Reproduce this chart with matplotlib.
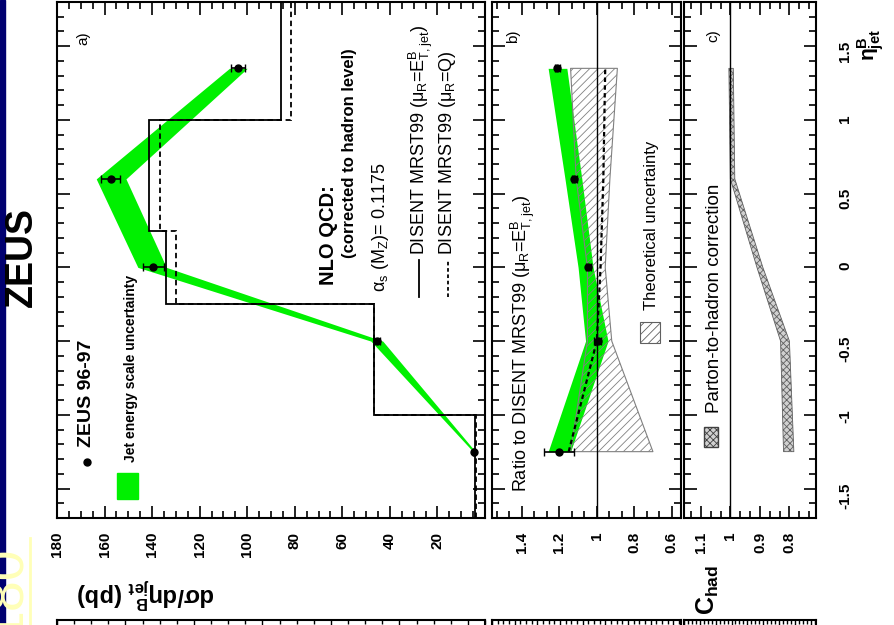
import numpy as np
import matplotlib
matplotlib.use('Agg')
import matplotlib.pyplot as plt
from matplotlib.ticker import AutoMinorLocator, MultipleLocator
from matplotlib.patches import Rectangle
from matplotlib.lines import Line2D

plt.rcParams['font.family'] = ['Liberation Sans', 'DejaVu Sans']
plt.rcParams['mathtext.default'] = 'regular'
plt.rcParams['hatch.linewidth'] = 0.6

# ZEUS 96-97 data points
eta = [-1.25, -0.5, 0.0, 0.6, 1.35]
xsec = [4.5, 45.5, 139.5, 157.5, 104.0]
xsec_err = [0.5, 1.2, 4.5, 3.8, 3.0]
jes_lo = [4.0, 43.0, 134.0, 151.0, 100.0]
jes_hi = [5.0, 48.0, 146.0, 163.5, 107.5]

# NLO histograms
bin_edges = [-1.7, -1.0, -0.25, 0.25, 1.0, 1.8]
nlo_et = [4.1, 46.8, 134.0, 141.5, 85.7]
nlo_q = [3.8, 46.5, 130.0, 136.5, 81.5]

# ratio panel
ratio = [1.2, 0.995, 1.045, 1.12, 1.21]
ratio_err = [0.08, 0.02, 0.015, 0.015, 0.015]
ratio_jes_lo = [1.14, 0.94, 1.02, 1.08, 1.16]
ratio_jes_hi = [1.26, 1.06, 1.10, 1.17, 1.26]
ratio_q = [1.15, 1.0, 0.98, 0.965, 0.955]
theo_lo = [0.70, 0.92, 0.955, 0.93, 0.89]
theo_hi = [1.14, 1.05, 1.05, 1.11, 1.14]

# hadronisation correction
chad_lo = [0.785, 0.80, 0.89, 0.985, 0.99]
chad_hi = [0.82, 0.83, 0.91, 1.0, 1.005]

eta_ticks = [-1.5, -1, -0.5, 0, 0.5, 1, 1.5]
eta_labels = ['-1.5', '-1', '-0.5', '0', '0.5', '1', '1.5']
xs_ticks = [20, 40, 60, 80, 100, 120, 140, 160, 180]
r_ticks = [1.4, 1.2, 1.0, 0.8, 0.6]
r_labels = ['1.4', '1.2', '1', '0.8', '0.6']
c_ticks = [1.1, 1.0, 0.9, 0.8]
c_labels = ['1.1', '1', '0.9', '0.8']

W, H = 895, 625
green = '#00f000'
fig = plt.figure(figsize=(W / 100, H / 100), dpi=100)


def box(x0, y0, x1, y1):
    return [x0 / W, 1 - y1 / H, (x1 - x0) / W, (y1 - y0) / H]


def ftext(x, y, s, **kw):
    kw.setdefault('rotation', 90)
    kw.setdefault('ha', 'center')
    kw.setdefault('va', 'bottom')
    fig.text(x / W, 1 - y / H, s, **kw)


def style(ax):
    for s in ax.spines.values():
        s.set_linewidth(1.5)
    ax.tick_params(which='both', direction='in', top=True, bottom=True,
                   left=True, right=True, width=1.2, labelleft=False)
    ax.tick_params(which='major', length=9)
    ax.tick_params(which='minor', length=5)
    ax.tick_params(axis='x', labelrotation=90, pad=10)


# slide border
fig.add_artist(Rectangle((0, 0), 5 / W, 1, transform=fig.transFigure, color='#000070'))

ax_a = fig.add_axes(box(57, 2, 485, 518))
ax_b = fig.add_axes(box(492, 2, 681, 518), sharey=ax_a)
ax_c = fig.add_axes(box(684, 2, 816, 518), sharey=ax_a)

# a) cross section
ax_a.fill_betweenx(eta, jes_lo, jes_hi, color=green, lw=0, zorder=1)
ax_a.stairs(nlo_et, bin_edges, orientation='horizontal', baseline=None, color='k', lw=1.3)
ax_a.stairs(nlo_q, bin_edges, orientation='horizontal', baseline=None, color='k', lw=1.3,
            ls=(0, (3, 2)))
ax_a.errorbar(xsec, eta, xerr=xsec_err, fmt='o', color='k', ms=5, capsize=3, elinewidth=1.2, zorder=5)
ax_a.set_xlim(180, 0)
ax_a.set_xticks(xs_ticks, [str(v) for v in xs_ticks], fontweight='bold', fontsize=11)
ax_a.xaxis.set_minor_locator(AutoMinorLocator(4))

# b) ratio
ax_b.fill_betweenx(eta, ratio_jes_lo, ratio_jes_hi, color=green, lw=0, zorder=1)
ax_b.fill_betweenx(eta, theo_lo, theo_hi, facecolor='none', edgecolor='#808080', hatch='////', lw=0.8, zorder=2)
ax_b.axvline(1, color='k', lw=1, zorder=3)
ax_b.plot(ratio_q, eta, color='k', lw=1.6, ls=(0, (2, 1.5)), zorder=4)
ax_b.errorbar(ratio, eta, xerr=ratio_err, fmt='o', color='k', ms=5, capsize=3, elinewidth=1.2, zorder=5)
ax_b.set_xlim(1.56, 0.55)
ax_b.set_xticks(r_ticks, r_labels, fontweight='bold', fontsize=11)
ax_b.xaxis.set_minor_locator(AutoMinorLocator(3))

# c) hadronisation correction
ax_c.axvline(1, color='k', lw=1)
ax_c.fill_betweenx(eta, chad_lo, chad_hi, facecolor='#d0d0d0', edgecolor='#606060', hatch='xxxxx', lw=0.6)
ax_c.set_xlim(1.157, 0.71)
ax_c.set_xticks(c_ticks, c_labels, fontweight='bold', fontsize=11)
ax_c.xaxis.set_minor_locator(AutoMinorLocator(3))

for ax in (ax_a, ax_b, ax_c):
    style(ax)
ax_c.set_ylim(-1.7, 1.8)
ax_c.set_yticks(eta_ticks, eta_labels, fontweight='bold', fontsize=11)
ax_c.yaxis.set_minor_locator(AutoMinorLocator(5))
ax_c.tick_params(axis='y', labelright=True, labelrotation=90, pad=16)

# parts of the next page peeking in at the bottom
for x0, x1, step in [(57, 485, 4), (492, 681, 3), (684, 816, 3)]:
    axn = fig.add_axes(box(x0, 620, x1, 1000))
    axn.set_xlim(0, 100)
    axn.xaxis.set_major_locator(MultipleLocator(step * 4))
    axn.xaxis.set_minor_locator(MultipleLocator(step))
    axn.set_yticks([])
    axn.tick_params(which='both', direction='in', top=True, bottom=False, labelbottom=False, width=1)
    axn.tick_params(which='major', length=6)
    axn.tick_params(which='minor', length=3)
    for s in axn.spines.values():
        s.set_linewidth(1.5)

# texts
ftext(22, 307, 'ZEUS', fontsize=27, fontweight='bold')
ftext(83, 45, 'a)', fontsize=11)
ftext(513, 43, 'b)', fontsize=11)
ftext(713, 42, 'c)', fontsize=11)

fig.add_artist(Line2D([87 / W], [1 - 462 / H], marker='o', color='k', ms=5, transform=fig.transFigure))
ftext(87, 447, 'ZEUS 96-97', fontsize=14, fontweight='bold')
fig.add_artist(Rectangle((117 / W, 1 - 499 / H), 21 / W, 26 / H, transform=fig.transFigure, color=green))
ftext(131, 462, 'Jet energy scale uncertainty', fontsize=10, fontweight='bold')

ftext(329, 285, 'NLO QCD:', fontsize=14.5, fontweight='bold')
ftext(350, 258, '(corrected to hadron level)', fontsize=12, fontweight='bold')
ftext(381, 292, 'α$_s$ (M$_Z$)= 0.1175', fontsize=13)
fig.add_artist(Line2D([419 / W] * 2, [1 - 297 / H, 1 - 260 / H], color='k', lw=1.3, transform=fig.transFigure))
ftext(421, 255, 'DISENT MRST99 (μ$_R$=E$^B_{T,jet}$)', fontsize=13)
fig.add_artist(Line2D([448 / W] * 2, [1 - 297 / H, 1 - 260 / H], color='k', lw=1.3, ls=(0, (2, 1.5)),
                      transform=fig.transFigure))
ftext(448, 255, 'DISENT MRST99 (μ$_R$=Q)', fontsize=13)

ftext(523, 492, 'Ratio to DISENT MRST99 (μ$_R$=E$^B_{T,jet}$)', fontsize=13)
fig.add_artist(Rectangle((640 / W, 1 - 343 / H), 20 / W, 21 / H, transform=fig.transFigure,
                         facecolor='white', edgecolor='#606060', hatch='////', lw=0.8))
ftext(652, 310, 'Theoretical uncertainty', fontsize=12)
fig.add_artist(Rectangle((704 / W, 1 - 447 / H), 14 / W, 20 / H, transform=fig.transFigure,
                         facecolor='#d0d0d0', edgecolor='#404040', hatch='xxxxx', lw=1))
ftext(715, 413, 'Parton-to-hadron correction', fontsize=13.5)

ftext(146, 593, 'dσ/dη$^B_{jet}$ (pb)', rotation=180, va='center', fontsize=17, fontweight='bold')
ftext(708, 590, 'C$_{had}$', va='center', fontsize=18, fontweight='bold')
ftext(871, 45, 'η$^B_{jet}$', va='center', fontsize=15, fontweight='bold')

# yellow slide number at the lower left
ftext(6, 637, '180', fontsize=40, color='#ffffb8')
fig.add_artist(Line2D([30 / W] * 2, [0, 1 - 538 / H], color='#ffffb8', lw=2, transform=fig.transFigure))

fig.savefig('out.png', dpi=100)
